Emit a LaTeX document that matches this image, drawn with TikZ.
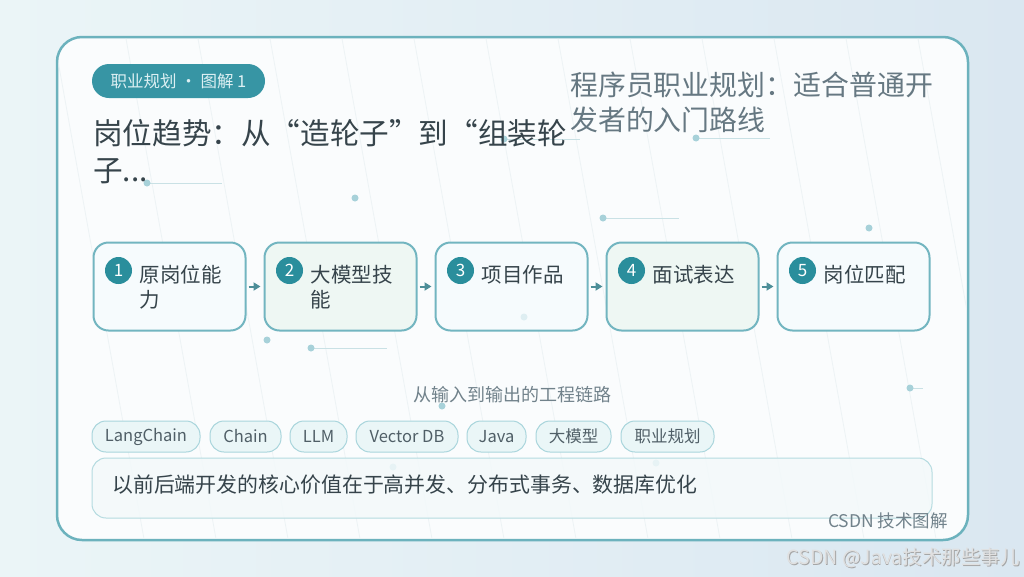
\documentclass[tikz,border=0pt]{standalone}
\usepackage{fontspec}
\setmainfont{Noto Sans CJK SC}
\usetikzlibrary{arrows.meta,calc}
\definecolor{bgL}{HTML}{EBF5F7}
\definecolor{bgR}{HTML}{DAE7F1}
\definecolor{cardB}{HTML}{6CB2BD}
\definecolor{cardF}{HTML}{FAFCFD}
\definecolor{cTeal}{HTML}{2A8E9C}
\definecolor{badgeF}{HTML}{3795A4}
\definecolor{badgeT}{HTML}{DDF0F3}
\definecolor{stepB}{HTML}{72B5C0}
\definecolor{stepF}{HTML}{F6FBFD}
\definecolor{stepG}{HTML}{EEF7F3}
\definecolor{darkT}{HTML}{36444B}
\definecolor{greyT}{HTML}{667882}
\definecolor{subT}{HTML}{71828B}
\definecolor{arrC}{HTML}{4D8E98}
\definecolor{tagB}{HTML}{A9D5DC}
\definecolor{tagF}{HTML}{EAF6F7}
\definecolor{tagT}{HTML}{505F67}
\definecolor{capB}{HTML}{B5DBE0}
\definecolor{capF}{HTML}{F3F9FA}
\definecolor{dotC}{HTML}{A7D1D9}
\definecolor{dlineC}{HTML}{C9E1E5}
\definecolor{stripeC}{HTML}{EDF3F5}
\begin{document}
\begin{tikzpicture}[x=1pt,y=-1pt,
  card/.style={draw=cardB, line width=2.5pt, fill=cardF, rounded corners=25pt,
    minimum width=911pt, minimum height=503pt, inner sep=0pt},
  badge/.style={fill=badgeF, rounded corners=17pt, minimum width=173pt,
    minimum height=34pt, inner sep=0pt, text=badgeT, font=\fontsize{16.5}{18}\selectfont},
  title/.style={anchor=west, inner sep=0pt, text=darkT, font=\fontsize{29.6}{32}\selectfont},
  rtitle/.style={anchor=west, inner sep=0pt, text=greyT, font=\fontsize{27.9}{30}\selectfont},
  stepbox/.style={draw=stepB, line width=2pt, rounded corners=15pt, minimum width=152pt,
    minimum height=88pt, inner sep=0pt},
  num/.style={circle, fill=cTeal, minimum size=27pt, inner sep=0pt, text=white,
    font=\fontsize{17}{18}\selectfont},
  steptext/.style={anchor=west, inner sep=0pt, text=darkT, font=\fontsize{20.5}{22}\selectfont},
  flow/.style={draw=arrC, line width=2pt, -{Triangle[length=7pt,width=8pt]},
    shorten <=2pt, shorten >=3pt},
  sub/.style={inner sep=0pt, text=subT, font=\fontsize{18}{20}\selectfont},
  tag/.style={draw=tagB, fill=tagF, line width=1pt, rounded corners=14pt,
    minimum height=31pt, inner sep=0pt, text=tagT, font=\fontsize{16.5}{18}\selectfont},
  capbox/.style={draw=capB, fill=capF, fill opacity=0.85, line width=1pt, rounded corners=14pt,
    minimum width=840pt, minimum height=60pt, inner sep=0pt},
  captext/.style={anchor=west, inner sep=0pt, text=darkT, font=\fontsize{20.9}{22}\selectfont},
  foot/.style={anchor=east, inner sep=0pt, text=subT, font=\fontsize{17.5}{19}\selectfont},
  wm/.style={anchor=east, inner sep=0pt, font=\fontsize{19.5}{21}\selectfont},
  dot/.style={fill=dotC},
  dline/.style={draw=dlineC, line width=1pt},
  stripe/.style={draw=stripeC, line width=0.8pt}
]
\useasboundingbox (0,0) rectangle (1024,576);
% background
\shade[left color=bgL, right color=bgR] (0,0) rectangle (1024,576);
% card
\node[card] (card) at (512.5,288.5) {};
\begin{scope}
  \clip[rounded corners=24pt] (58.5,38.5) rectangle (966.5,538.5);
  \foreach \k in {-1,...,12}
    \draw[stripe] ({128+72*\k-2.3},37) -- ({128+72*\k+88.2},540);
\end{scope}
% decorative dots and lines
\draw[dline] (147,183) -- (222,183);
\fill[dot] (147,183) circle (3.5);
\fill[dot] (355,198) circle (3.5);
\draw[dline] (504,139) -- (580,139);
\fill[dot] (504,139) circle (3.5);
\draw[dline] (696,138) -- (770,138);
\fill[dot] (696,138) circle (3.5);
\draw[dline] (603,218) -- (679,218);
\fill[dot] (603,218) circle (3.5);
\fill[dot] (869,228) circle (3.5);
\fill[dot] (267,340) circle (3.5);
\draw[dline] (311,348) -- (387,348);
\fill[dot] (311,348) circle (3.5);
\draw[dline] (910,388) -- (923,388);
\fill[dot] (910,388) circle (3.5);
\fill[dot] (442,406) circle (3.5);
% badge and titles
\node[badge] (badge) at (178.5,81) {职业规划 · 图解 1};
\node[title] (t1) at (93,133) {岗位趋势：从“造轮子”到“组装轮};
\node[title] (t2) at (93,171) {子...};
\node[rtitle] (r1) at (570,85) {程序员职业规划：适合普通开};
\node[rtitle] (r2) at (570,120) {发者的入门路线};
% steps
\node[stepbox, fill=stepF] (b1) at (169.5,286.5) {};
\node[stepbox, fill=stepG] (b2) at (340.5,286.5) {};
\node[stepbox, fill=stepF] (b3) at (511.5,286.5) {};
\node[stepbox, fill=stepG] (b4) at (682.5,286.5) {};
\node[stepbox, fill=stepF] (b5) at (853.5,286.5) {};
\fill[dot, opacity=0.3] (524,317) circle (3.5);
\foreach \i in {1,...,5}{
  \node[num] (n\i) at ($(b\i.north west)+(26,29)$) {\i};
}
\node[steptext] (s1a) at ($(b1.north west)+(47,33)$) {原岗位能};
\node[steptext] (s1b) at ($(b1.north west)+(47,58)$) {力};
\node[steptext] (s2a) at ($(b2.north west)+(47,33)$) {大模型技};
\node[steptext] (s2b) at ($(b2.north west)+(47,58)$) {能};
\node[steptext] (s3a) at ($(b3.north west)+(47,33)$) {项目作品};
\node[steptext] (s4a) at ($(b4.north west)+(47,33)$) {面试表达};
\node[steptext] (s5a) at ($(b5.north west)+(47,33)$) {岗位匹配};
\draw[flow] (b1.east) -- (b2.west);
\draw[flow] (b2.east) -- (b3.west);
\draw[flow] (b3.east) -- (b4.west);
\draw[flow] (b4.east) -- (b5.west);
% subtitle and tags
\node[sub] (subt) at (512,395) {从输入到输出的工程链路};
\node[tag, minimum width=108pt] (g1) at (146,436.5) {LangChain};
\node[tag, minimum width=71pt] (g2) at (245.5,436.5) {Chain};
\node[tag, minimum width=57pt] (g3) at (318.5,436.5) {LLM};
\node[tag, minimum width=102pt] (g4) at (407,436.5) {Vector DB};
\node[tag, minimum width=59pt] (g5) at (496.5,436.5) {Java};
\node[tag, minimum width=75pt] (g6) at (573.5,436.5) {大模型};
\node[tag, minimum width=93pt] (g7) at (667.5,436.5) {职业规划};
% caption
\fill[dot] (393,467) circle (3.5);
\fill[dot] (656,463) circle (3.5);
\node[capbox] (cap) at (512,488) {};
\node[captext] (capt) at (112,485) {以前后端开发的核心价值在于高并发、分布式事务、数据库优化};
\node[foot] (ft) at (948,521) {CSDN 技术图解};
% watermark
\node[wm, text=black!35] (wms) at (1020.8,558.8) {CSDN @Java技术那些事儿};
\node[wm, text=white!88!black] (wm) at (1020,558) {CSDN @Java技术那些事儿};
\end{tikzpicture}
\end{document}
